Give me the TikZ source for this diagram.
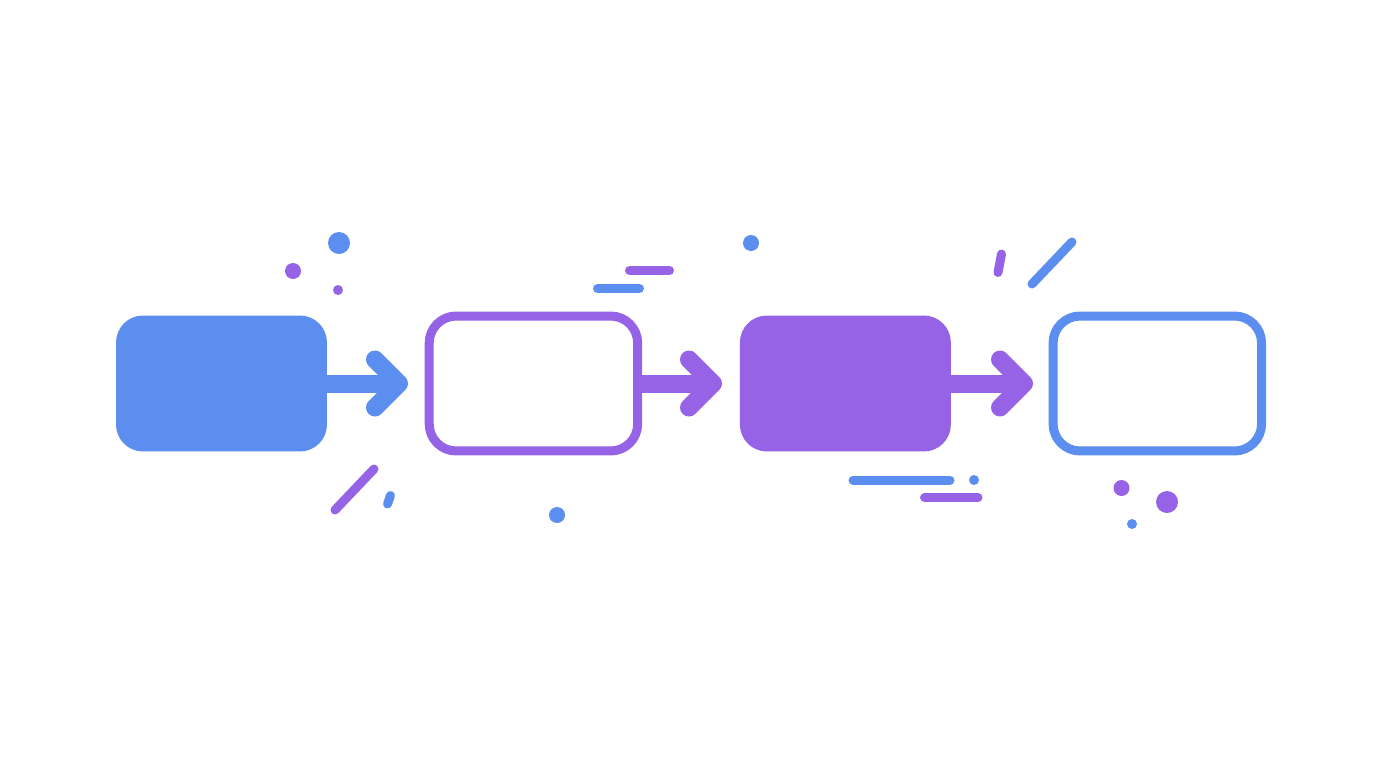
\documentclass[tikz,border=0pt]{standalone}
\usepackage{tikz}
\usetikzlibrary{positioning}
\definecolor{stepblue}{RGB}{92,142,239}
\definecolor{steppurple}{RGB}{150,99,230}

\begin{document}
\begin{tikzpicture}[x=0.02cm,y=-0.02cm,on grid,node distance=6.24cm,
    solidbox/.style={rectangle,rounded corners=0.54cm,minimum width=4.22cm,minimum height=2.72cm,inner sep=0pt},
    hollowbox/.style={rectangle,draw,line width=0.18cm,rounded corners=0.54cm,minimum width=4.17cm,minimum height=2.7cm,inner sep=0pt,fill=white},
    flow/.style={line width=0.36cm},
    barb/.style={line width=0.36cm,line cap=round,line join=round},
    streak/.style={line width=0.18cm,line cap=round}]
    \useasboundingbox (0,0) rectangle (1376,768);
    % the four steps
    \node[solidbox,fill=stepblue] (b1) at (221.5,383.5) {};
    \node[hollowbox,draw=steppurple,right=of b1] (b2) {};
    \node[solidbox,fill=steppurple,right=of b2] (b3) {};
    \node[hollowbox,draw=stepblue,right=of b3] (b4) {};
    % arrows between them
    \coordinate (t1) at (399,383.5);
    \coordinate (t2) at (713,383.5);
    \coordinate (t3) at (1024,383.5);
    \draw[flow,stepblue] (b1.east) -- (t1);
    \draw[barb,stepblue] ([shift={(-24,-24)}]t1) -- (t1) -- ([shift={(-24,24)}]t1);
    \draw[flow,steppurple] (b2.east) -- (t2);
    \draw[barb,steppurple] ([shift={(-24,-24)}]t2) -- (t2) -- ([shift={(-24,24)}]t2);
    \draw[flow,steppurple] (b3.east) -- (t3);
    \draw[barb,steppurple] ([shift={(-24,-24)}]t3) -- (t3) -- ([shift={(-24,24)}]t3);
    % confetti
    \fill[stepblue] (339,243) circle[radius=11];
    \fill[steppurple] (293,271) circle[radius=8];
    \fill[steppurple] (338,290) circle[radius=5];
    \draw[streak,steppurple] (335,510) -- (374,469);
    \draw[streak,stepblue] (387.5,504) -- (390.5,495.5);
    \draw[streak,steppurple] (629.5,270.5) -- (669.5,270.5);
    \draw[streak,stepblue] (597.5,288.5) -- (639.5,288.5);
    \fill[stepblue] (751,243) circle[radius=8];
    \fill[stepblue] (557,515) circle[radius=8];
    \draw[streak,stepblue] (853,480) -- (950,480);
    \fill[stepblue] (974,480) circle[radius=5];
    \draw[streak,steppurple] (924.5,497.5) -- (978,497.5);
    \draw[streak,steppurple] (1001.5,254) -- (998,272.5);
    \draw[streak,stepblue] (1032,284) -- (1072,242);
    \fill[steppurple] (1121.5,488) circle[radius=8];
    \fill[steppurple] (1167,502) circle[radius=11];
    \fill[stepblue] (1132,524) circle[radius=5];
\end{tikzpicture}
\end{document}
